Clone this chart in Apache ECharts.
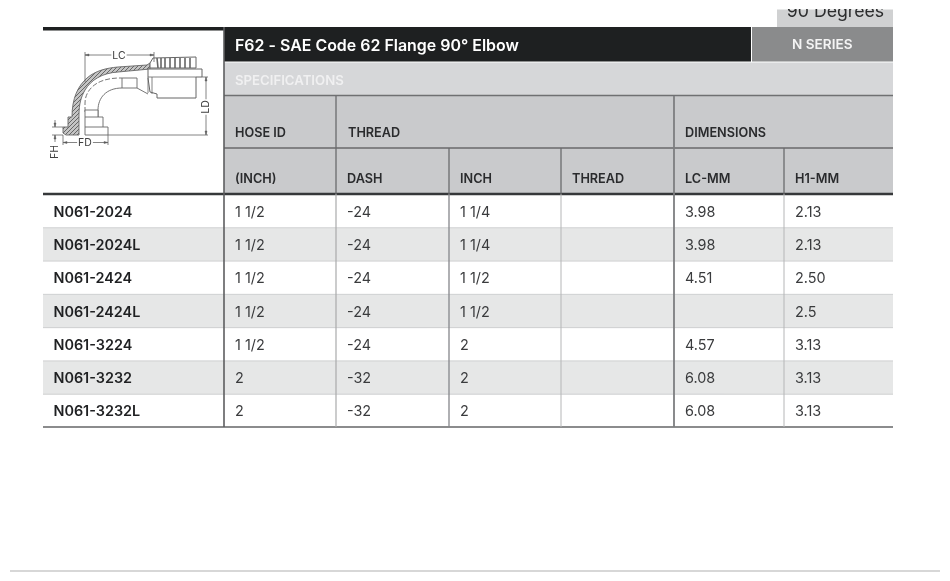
<!DOCTYPE html>
<html><head><meta charset="utf-8">
<style>html,body{margin:0;padding:0;background:#fff}#c{width:950px;height:581px}</style>
<script src="https://cdn.jsdelivr.net/npm/echarts@6/dist/echarts.min.js"></script>
</head><body><div id="c"></div>
<script>
// ---- data ----
const partNumbers = ['N061-2024','N061-2024L','N061-2424','N061-2424L','N061-3224','N061-3232','N061-3232L'];
const hoseInch = ['1 1/2','1 1/2','1 1/2','1 1/2','1 1/2','2','2'];
const threadDash = ['-24','-24','-24','-24','-24','-32','-32'];
const threadInch = ['1 1/4','1 1/4','1 1/2','1 1/2','2','2','2'];
const threadName = ['','','','','','',''];
const lcMm = ['3.98','3.98','4.51','','4.57','6.08','6.08'];
const h1Mm = ['2.13','2.13','2.50','2.5','3.13','3.13','3.13'];
const titleText = 'F62 - SAE Code 62 Flange 90° Elbow';
const seriesText = 'N SERIES';
const tabText = '90 Degrees';
const sectionText = 'SPECIFICATIONS';
const groupHeaders = ['HOSE ID','THREAD','DIMENSIONS'];
const columnHeaders = ['(INCH)','DASH','INCH','THREAD','LC-MM','H1-MM'];

// ---- layout ----
const colX = [43,224,336,449,561,674,784,893];
const FF = 'Inter, "Noto Sans", sans-serif';
const rows = partNumbers.map((p,i)=>[p,hoseInch[i],threadDash[i],threadInch[i],threadName[i],lcMm[i],h1Mm[i]]);

const rect=(x,y,w,h,fill,z)=>({type:'rect',z:z||1,silent:true,shape:{x,y,width:w,height:h},style:{fill}});
const vline=(x,y1,y2,c,w,z)=>({type:'line',z:z||6,silent:true,shape:{x1:x,y1,x2:x,y2},style:{stroke:c,lineWidth:w}});
const hline=(y,x1,x2,c,w,z)=>({type:'line',z:z||6,silent:true,shape:{x1,y1:y,x2,y2:y},style:{stroke:c,lineWidth:w}});
const txt=(s,x,y,size,weight,fill,extra)=>({type:'text',z:7,silent:true,x,y,style:Object.assign({text:s,font:weight+' '+size+'px '+FF,fill,textVerticalAlign:'middle',textAlign:'left'},extra||{})});

// hatch pattern for the cut section of the fitting drawing
const hc=document.createElement('canvas');hc.width=4;hc.height=4;
const hx=hc.getContext('2d');hx.fillStyle='#c4c4c4';hx.fillRect(0,0,4,4);hx.strokeStyle='#666666';hx.lineWidth=1;
hx.beginPath();hx.moveTo(0,4);hx.lineTo(4,0);hx.moveTo(-1,1);hx.lineTo(1,-1);hx.moveTo(3,5);hx.lineTo(5,3);hx.stroke();

const LN='#666666';
let pathCount=0;
const path=(d,fill,w,dash)=>{
  const name='drawingPath'+(pathCount++);
  echarts.graphic.registerShape(name,echarts.graphic.extendPath(d,{}));
  return {type:name,z:3,silent:true,style:{fill:fill||'none',stroke:LN,lineWidth:w||0.9,lineDash:dash||null}};
};
const dimText=(s,x,y,rot)=>({type:'text',z:5,silent:true,x,y,rotation:rot||0,style:{text:s,font:'400 10.5px '+FF,fill:'#404040',textAlign:'center',textVerticalAlign:'middle',backgroundColor:'#fff',padding:[0,1]}});

const drawing=[
  // hatched elbow wall and flange
  path('M63 127 L68 127 L68 117 L72 117 C72 98 78 86 87 78 C95 71 106 68 118 67 L147 65 L150 63 L150 69 L118 72 C102 73 91 80 85 90 C81 97 79 104 79 115 L79 135 L66 135 L63 133 Z',{image:hc,repeat:'repeat'},0.9),
  // hose ferrule
  path('M153 58 L196 57 L196 68 L150 68 L150 63 Z','#fff',1),
  path('M157 58 L158 68 M161 58 L161 68 M165 58 L165 68 M170 58 L170 68 M175 58 L175 68 M180 58 L180 68 M185 58 L185 68 M190 58 L190 68',null,1.6),
  // tail tube
  path('M148 69 L202 69 L202 77 L196 77 L196 98 L157 98 L157 94 L150 92 L148 78 Z','#fff',1),
  path('M148 77 L196 77 M148 78 L148 93 M152 77 L152 94',null,0.8),
  // bore
  path('M85 112 L85 103 C85 92 94 78 120 78 L122 78',null,0.9,[5,2]),
  path('M98 117 L98 110 C98 98 106 88 122 88 L137 88 L148 94',null,0.9),
  path('M122 78 L122 88 M137 78 L137 88 M122 78 L137 78',null,0.9),
  // flange outline
  path('M85 110 L98 110 L98 117 L103 117 L103 127 L108 127 L108 135 L85 135 Z M85 117 L98 117 M85 127 L103 127','#fff',0.9),
  // dimension lines
  path('M85 55 L114 55 M124 55 L154 55 M85 52 L85 82 M154 52 L154 62',null,0.8),
  path('M85 55 L89 54 L89 56 Z M154 55 L150 54 L150 56 Z','#555',0.5),
  path('M202 77 L208 77 M108 135 L208 135 M206 77 L206 101 M206 114 L206 135',null,0.8),
  path('M206 77 L205 81 L207 81 Z M206 135 L205 131 L207 131 Z','#555',0.5),
  path('M55 120 L55 127 M55 135 L55 142 M52 127 L63 127 M52 135 L63 135',null,0.8),
  path('M55 127 L54 123 L56 123 Z M55 135 L54 139 L56 139 Z','#555',0.5),
  path('M63 135 L63 145 M108 135 L108 145 M63 142.5 L78 142.5 M92 142.5 L108 142.5',null,0.8),
  path('M63 142.5 L67 141.5 L67 143.5 Z M108 142.5 L104 141.5 L104 143.5 Z','#555',0.5),
  dimText('LC',119,55.5),
  dimText('LD',206,107,Math.PI/2),
  dimText('FD',85,143),
  dimText('FH',55,152,Math.PI/2)
];

const header=[
  // "90 Degrees" tab, cut off by the top of the crop
  rect(777,9.5,116,18,'#d0d1d2',1),
  {type:'text',z:2,silent:true,x:835.5,y:11.5,style:{text:tabText,font:'400 17.7px '+FF,fill:'#2b2c2d',textAlign:'center',textVerticalAlign:'middle'}},
  rect(770,0,130,9,'#ffffff',3),
  // bars
  rect(43,27,181,3.5,'#1e2021',2),
  rect(224,27,527,34.5,'#1e2021',2),
  rect(752,27,141,34.5,'#8a8b8c',2),
  rect(224,62.5,669,33,'#d6d7d9',2),
  rect(224,96,669,97,'#c9cacc',2),
  txt(titleText,235,46,15.95,600,'#ffffff'),
  txt(seriesText,792,45,13.6,600,'#f4f4f4'),
  txt(sectionText,235,81,13.2,600,'#f0f0f1'),
  // rules
  hline(95.5,224,893,'#6f7072',1.3),
  hline(148,224,893,'#68696b',1.3),
  hline(194,43,893,'#36383a',2.4),
  hline(427,43,893,'#8b8c8d',2),
  hline(571,10,940,'#b0b0b0',1.2),
  // verticals through header
  vline(colX[1],27,427,'#5d5e60',1.6),
  vline(colX[2],96,194,'#6a6b6d',1.3),
  vline(colX[5],96,427,'#7d7e80',1.8),
  vline(colX[3],148,194,'#6a6b6d',1.3),
  vline(colX[4],148,194,'#6a6b6d',1.3),
  vline(colX[6],148,194,'#6a6b6d',1.3),
  // body verticals
  vline(colX[2],194,427,'#a9aaab',1.2),
  vline(colX[3],194,427,'#85868a',1.3),
  vline(colX[4],194,427,'#b5b6b7',1),
  vline(colX[6],194,427,'#b5b6b7',1),
  // header labels
  txt(groupHeaders[0],235,132.8,12.7,600,'#2a2b2d'),
  txt(groupHeaders[1],348,132.8,12.7,600,'#2a2b2d'),
  txt(groupHeaders[2],685,132.8,12.7,600,'#2a2b2d')
].concat(columnHeaders.map((s,i)=>txt(s,colX[i+1]+11,179.5,12.7,600,'#2a2b2d')));

const chart=echarts.init(document.getElementById('c'),null,{renderer:'canvas'});
chart.setOption({
  animation:false,
  backgroundColor:'#ffffff',
  grid:{left:0,right:0,top:194.5,height:233},
  xAxis:{type:'value',min:0,max:950,show:false},
  yAxis:{type:'category',inverse:true,data:partNumbers,show:false},
  graphic:{elements:header.concat(drawing)},
  series:[{
    type:'custom',
    coordinateSystem:'cartesian2d',
    encode:{y:0},
    silent:true,
    z:1,
    data:rows.map(r=>r.concat()),
    renderItem:(params,api)=>{
      const i=params.dataIndex;
      const y=api.coord([0,i])[1];
      const h=api.size([0,1])[1];
      const kids=[];
      const x0=api.coord([colX[0],i])[0], x1=api.coord([colX[7],i])[0];
      if(i%2===1){
        kids.push({type:'rect',shape:{x:x0,y:y-h/2,width:x1-x0,height:h},style:{fill:'#e6e7e7'}});
      }
      if(i>0){
        kids.push({type:'line',shape:{x1:x0,y1:y-h/2,x2:x1,y2:y-h/2},style:{stroke:'#cfd0d1',lineWidth:1}});
      }
      rows[i].forEach((v,c)=>{
        if(v==='')return;
        const x=api.coord([colX[c]+(c===0?10.5:11),i])[0];
        kids.push({type:'text',x,y:y+1.2,style:{text:v,font:(c===0?'600 ':'400 ')+'14.4px '+FF,fill:c===0?'#1f2022':'#3a3b3d',textAlign:'left',textVerticalAlign:'middle'}});
      });
      return {type:'group',children:kids};
    }
  }]
});
</script></body></html>
